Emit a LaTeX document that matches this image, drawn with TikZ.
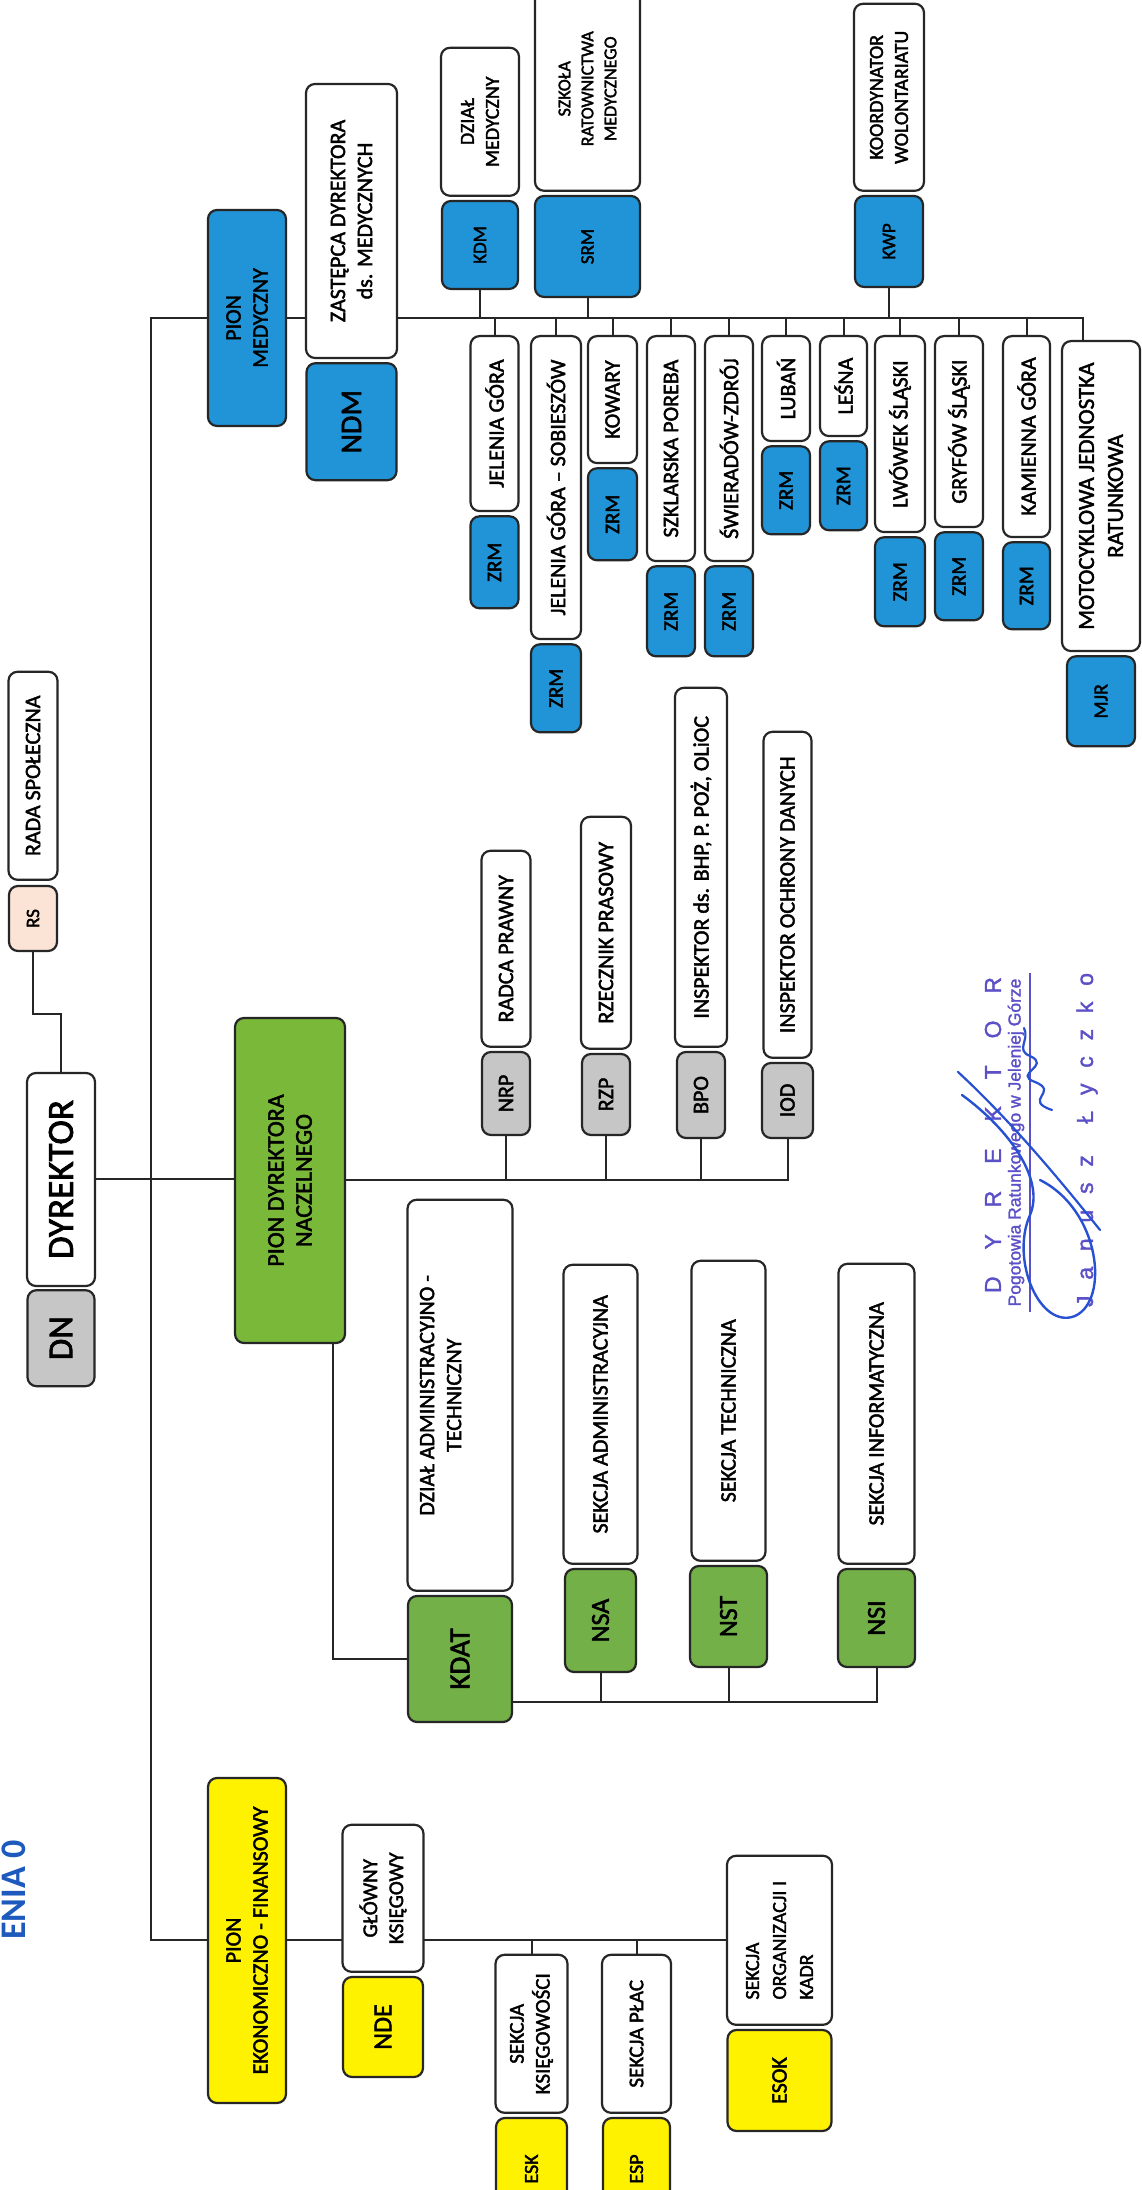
\documentclass[tikz,border=0pt]{standalone}
\usepackage{fontspec}
\setmainfont{Carlito}[FakeBold=2]
\newfontfamily\stampfont{Liberation Sans}[FakeBold=1.5]
\newfontfamily\titlefont{Carlito Bold}
\usetikzlibrary{positioning,backgrounds}

\definecolor{medblue}{RGB}{32,148,214}
\definecolor{dirgreen}{RGB}{122,184,58}
\definecolor{secgreen}{RGB}{116,176,72}
\definecolor{ekoyellow}{RGB}{255,242,0}
\definecolor{codegray}{RGB}{198,198,198}
\definecolor{rspeach}{RGB}{251,228,214}
\definecolor{stampink}{RGB}{92,80,200}
\definecolor{signink}{RGB}{40,80,210}
\definecolor{titleblue}{RGB}{30,90,190}

\newcommand{\fsz}[2]{\fontsize{#1}{#2}\selectfont}

\begin{document}
\begin{tikzpicture}[
    x=1pt, y=-1pt,
    rotate=90, transform shape,
    node distance=3pt,
    box/.style={
        draw=black!85,
        line width=2.2pt,
        rounded corners=9pt,
        fill=white,
        align=center,
        inner sep=2pt,
        font=\fsz{22}{27}
    },
    blu/.style={box, fill=medblue},
    grn/.style={box, fill=secgreen},
    yel/.style={box, fill=ekoyellow},
    gry/.style={box, fill=codegray},
    link/.style={
        line width=2pt,
        draw=black!85
    },
    stamp/.style={text=stampink, inner sep=0pt, font=\stampfont\fsz{23}{26}}
]
\useasboundingbox (0,0) rectangle (2190,1141);

% Title (at the page edge)
\node (ttl) [anchor=base west, inner sep=0pt, text=titleblue, font=\titlefont\fsz{36}{40}] at (250,25) {ENIA 0};

% Director
\node (dyr) [box, minimum width=213pt, minimum height=68pt, font=\fsz{37}{42}] at (1010.5,61) {DYREKTOR};
\node (dn)  [gry, left=2pt of dyr, minimum width=96pt, minimum height=67pt, font=\fsz{35}{40}] {DN};
\node (rs)  [box, fill=rspeach, minimum width=65pt, minimum height=48pt, font=\fsz{19}{22}] at (1271.5,33) {RS};
\node (rada)[box, right=4pt of rs, minimum width=208pt, minimum height=49pt] {RADA SPOŁECZNA};

% Divisions
\node (pe)  [yel, minimum width=325pt, minimum height=78pt] at (249.5,247) {PION\\EKONOMICZNO - FINANSOWY};
\node (pdn) [box, fill=dirgreen, minimum width=325pt, minimum height=110pt, font=\fsz{24}{28}] at (1009.5,290) {PION DYREKTORA\\NACZELNEGO};
\node (pm)  [blu, minimum width=216pt, minimum height=78pt] at (1872,247) {PION\\MEDYCZNY};

% Medical division
\node (zdm) [box, minimum width=274pt, minimum height=91pt] at (1969,351.5) {ZASTĘPCA DYREKTORA\\ds. MEDYCZNYCH};
\node (ndm) [blu, left=3pt of zdm, minimum width=117pt, minimum height=90pt, font=\fsz{30}{34}] {NDM};
\node (kdm) [blu, minimum width=88pt, minimum height=76pt, font=\fsz{19}{22}] at (1945,480) {KDM};
\node (dzm) [box, right=3pt of kdm, minimum width=148pt, minimum height=78pt, font=\fsz{20}{25}] {DZIAŁ\\MEDYCZNY};
\node (srm) [blu, minimum width=101pt, minimum height=105pt, font=\fsz{19}{22}] at (1943.5,587.5) {SRM};
\node (szk) [box, right=3pt of srm, minimum width=204pt, minimum height=105pt, font=\fsz{18}{23}] {SZKOŁA\\RATOWNICTWA\\MEDYCZNEGO};
\node (kwp) [blu, minimum width=91pt, minimum height=68pt, font=\fsz{19}{22}] at (1948.5,889) {KWP};
\node (kwo) [box, right=3pt of kwp, minimum width=187pt, minimum height=70pt, font=\fsz{20}{25}] {KOORDYNATOR\\WOLONTARIATU};

\node (s1)  [box, anchor=east, minimum width=175pt, minimum height=48pt] at (1855,494.5) {JELENIA GÓRA};
\node (z1)  [blu, left=3pt of s1, minimum width=92pt, minimum height=48pt, font=\fsz{21}{24}] {ZRM};
\node (s2)  [box, anchor=east, minimum width=303pt, minimum height=50pt] at (1855,556) {JELENIA GÓRA -- SOBIESZÓW};
\node (z2)  [blu, left=3pt of s2, minimum width=88pt, minimum height=50pt, font=\fsz{21}{24}] {ZRM};
\node (s3)  [box, anchor=east, minimum width=127pt, minimum height=49pt] at (1855,612.5) {KOWARY};
\node (z3)  [blu, left=3pt of s3, minimum width=92pt, minimum height=49pt, font=\fsz{21}{24}] {ZRM};
\node (s4)  [box, anchor=east, minimum width=225pt, minimum height=48pt] at (1855,671) {SZKLARSKA POREBA};
\node (z4)  [blu, left=3pt of s4, minimum width=90pt, minimum height=48pt, font=\fsz{21}{24}] {ZRM};
\node (s5)  [box, anchor=east, minimum width=225pt, minimum height=48pt] at (1855,729) {ŚWIERADÓW-ZDRÓJ};
\node (z5)  [blu, left=3pt of s5, minimum width=90pt, minimum height=48pt, font=\fsz{21}{24}] {ZRM};
\node (s6)  [box, anchor=east, minimum width=105pt, minimum height=48pt] at (1855,786) {LUBAŃ};
\node (z6)  [blu, left=3pt of s6, minimum width=88pt, minimum height=48pt, font=\fsz{21}{24}] {ZRM};
\node (s7)  [box, anchor=east, minimum width=100pt, minimum height=47pt] at (1855,843.5) {LEŚNA};
\node (z7)  [blu, left=3pt of s7, minimum width=89pt, minimum height=47pt, font=\fsz{21}{24}] {ZRM};
\node (s8)  [box, anchor=east, minimum width=196pt, minimum height=50pt] at (1855,900) {LWÓWEK ŚLĄSKI};
\node (z8)  [blu, left=3pt of s8, minimum width=89pt, minimum height=50pt, font=\fsz{21}{24}] {ZRM};
\node (s9)  [box, anchor=east, minimum width=191pt, minimum height=48pt] at (1855,959) {GRYFÓW ŚLĄSKI};
\node (z9)  [blu, left=3pt of s9, minimum width=88pt, minimum height=48pt, font=\fsz{21}{24}] {ZRM};
\node (s10) [box, anchor=east, minimum width=201pt, minimum height=47pt] at (1855,1026.5) {KAMIENNA GÓRA};
\node (z10) [blu, left=3pt of s10, minimum width=87pt, minimum height=47pt, font=\fsz{21}{24}] {ZRM};
\node (s11) [box, anchor=east, minimum width=310pt, minimum height=78pt, font=\fsz{23}{29}] at (1850,1101) {MOTOCYKLOWA JEDNOSTKA\\RATUNKOWA};
\node (mjr) [blu, left=3pt of s11, minimum width=90pt, minimum height=68pt, font=\fsz{20}{24}] {MJR};

% Director's posts
\node (nrp) [gry, minimum width=83pt, minimum height=48pt] at (1096.5,506) {NRP};
\node (rp)  [box, right=3pt of nrp, minimum width=196pt, minimum height=49pt] {RADCA PRAWNY};
\node (rzp) [gry, minimum width=81pt, minimum height=48pt] at (1095.5,606) {RZP};
\node (rzr) [box, right=3pt of rzp, minimum width=232pt, minimum height=50pt] {RZECZNIK PRASOWY};
\node (bpo) [gry, minimum width=86pt, minimum height=48pt] at (1095,701) {BPO};
\node (bhp) [box, right=3pt of bpo, minimum width=359pt, minimum height=52pt] {INSPEKTOR ds. BHP, P. POŻ, OLiOC};
\node (iod) [gry, minimum width=75pt, minimum height=51pt] at (1089.5,787.5) {IOD};
\node (odo) [box, right=3pt of iod, minimum width=326pt, minimum height=48pt] {INSPEKTOR OCHRONY DANYCH};

% Administration
\node (kdat)[grn, minimum width=126pt, minimum height=104pt, font=\fsz{29}{33}] at (531,460) {KDAT};
\node (dat) [box, right=3pt of kdat, minimum width=391pt, minimum height=105pt] {DZIAŁ ADMINISTRACYJNO -\\TECHNICZNY\\[12pt]};
\node (nsa) [grn, minimum width=103pt, minimum height=71pt, font=\fsz{26}{30}] at (569.5,600.5) {NSA};
\node (sa)  [box, right=3pt of nsa, minimum width=299pt, minimum height=74pt] {SEKCJA ADMINISTRACYJNA};
\node (nst) [grn, minimum width=101pt, minimum height=77pt, font=\fsz{26}{30}] at (573.5,728.5) {NST};
\node (st)  [box, right=3pt of nst, minimum width=300pt, minimum height=74pt] {SEKCJA TECHNICZNA};
\node (nsi) [grn, minimum width=98pt, minimum height=77pt, font=\fsz{26}{30}] at (572,876.5) {NSI};
\node (si)  [box, right=3pt of nsi, minimum width=300pt, minimum height=76pt] {SEKCJA INFORMATYCZNA};
\coordinate (abus) at (488,512);

% Economy
\node (nde) [yel, minimum width=100pt, minimum height=80pt, font=\fsz{26}{30}] at (163,383) {NDE};
\node (gk)  [box, right=3pt of nde, minimum width=147pt, minimum height=81pt, font=\fsz{21}{26}] {GŁÓWNY\\KSIĘGOWY};
\node (esk) [yel, minimum width=102pt, minimum height=71pt, font=\fsz{20}{24}] at (21,531.5) {ESK};
\node (sk)  [box, right=3pt of esk, minimum width=158pt, minimum height=72pt, font=\fsz{21}{26}] {SEKCJA\\KSIĘGOWOŚCI};
\node (esp) [yel, minimum width=102pt, minimum height=67pt, font=\fsz{20}{24}] at (21,636.5) {ESP};
\node (sp)  [box, right=3pt of esp, minimum width=158pt, minimum height=69pt, font=\fsz{21}{26}] {SEKCJA PŁAC};
\node (esok)[yel, minimum width=101pt, minimum height=104pt, font=\fsz{22}{26}] at (109.5,779.5) {ESOK};
\node (sok) [box, right=3pt of esok, minimum width=169pt, minimum height=105pt, align=left, font=\fsz{20}{27}] {SEKCJA\\ORGANIZACJI I\\KADR};

% Stamp
\node (stmp1) [stamp] at (1055,993) {\makebox[316pt][s]{D\hfil Y\hfil R\hfil E\hfil K\hfil T\hfil O\hfil R}};
\node (stmp2) [stamp, font=\stampfont\fsz{17.5}{20}] at (1047.5,1016) {Pogotowia Ratunkowego w Jeleniej Górze};
\node (stmp3) [stamp] at (1050,1087) {\makebox[334pt][s]{J\hfil a\hfil n\hfil u\hfil s\hfil z\hfil\hfil Ł\hfil y\hfil c\hfil z\hfil k\hfil o}};
\draw[stampink, line width=1.6pt] (878,1030) -- (1217,1030);
\draw[signink, line width=2.4pt, line cap=round]
    (1010,1040) .. controls (980,1100) and (890,1110) .. (874,1075)
    .. controls (860,1040) and (930,1010) .. (975,1030)
    .. controls (1010,1045) and (1060,1010) .. (1095,962);
\draw[signink, line width=2.2pt, line cap=round]
    (960,1100) .. controls (1010,1060) and (1070,1010) .. (1118,958);
\draw[signink, line width=2.2pt, line cap=round]
    (1080,1052) .. controls (1090,1022) and (1098,1060) .. (1108,1035)
    .. controls (1116,1012) and (1124,1052) .. (1134,1030)
    .. controls (1140,1015) and (1150,1030) .. (1162,1024);

% Lines
\begin{pgfonlayer}{background}
\fill[white] (0,0) rectangle (2190,1141);
\draw[link] (rs.west) -- ++(-62,0) |- (dyr.east);
\draw[link] (pe.north) -- ++(0,-56) -| (pm.north);
\draw[link] (dyr.south) -- (dyr.south |- pdn.north);
\draw[link] (pdn.south) |- (iod.west);
\draw[link] (nrp.west) -- (nrp.west -| pdn.south);
\draw[link] (rzp.west) -- (rzp.west -| pdn.south);
\draw[link] (bpo.west) -- (bpo.west -| pdn.south);
\draw[link] (pdn.south west) ++(0,-13) -| (kdat.north);
\draw[link] (abus) |- (nsi.west);
\draw[link] (nsa.west) -- (nsa.west -| abus);
\draw[link] (nst.west) -- (nst.west -| abus);
\draw[link] (pe.south) -- (pe.south |- sok.north);
\draw[link] (sk.east) -- (sk.east -| pe.south);
\draw[link] (sp.east) -- (sp.east -| pe.south);
\draw[link] (pm.south) -- ++(0,796) -- ++(-26,0);
\draw[link] (kdm.west) -- (kdm.west -| pm.south);
\draw[link] (srm.west) -- (srm.west -| pm.south);
\draw[link] (kwp.west) -- (kwp.west -| pm.south);
\draw[link] (s1.east) -- (s1.east -| pm.south);
\draw[link] (s2.east) -- (s2.east -| pm.south);
\draw[link] (s3.east) -- (s3.east -| pm.south);
\draw[link] (s4.east) -- (s4.east -| pm.south);
\draw[link] (s5.east) -- (s5.east -| pm.south);
\draw[link] (s6.east) -- (s6.east -| pm.south);
\draw[link] (s7.east) -- (s7.east -| pm.south);
\draw[link] (s8.east) -- (s8.east -| pm.south);
\draw[link] (s9.east) -- (s9.east -| pm.south);
\draw[link] (s10.east) -- (s10.east -| pm.south);
\end{pgfonlayer}

\end{tikzpicture}
\end{document}
